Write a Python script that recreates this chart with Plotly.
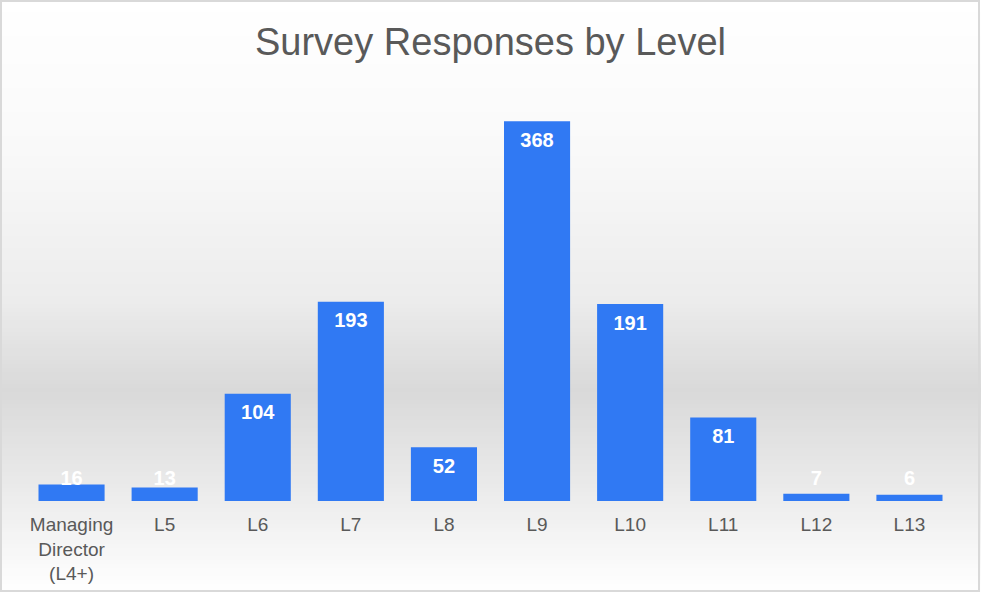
import plotly.graph_objects as go

categories = ["Managing<br>Director<br>(L4+)", "L5", "L6", "L7", "L8", "L9", "L10", "L11", "L12", "L13"]
responses = [16, 13, 104, 193, 52, 368, 191, 81, 7, 6]
title_text = "Survey Responses by Level"

W, H = 981, 593
ML, MR, MT, MB = 25, 25, 80, 92
PH = H - MT - MB
YMAX = 408

# label anchor: inside the top of each bar, kept above the baseline for short bars
label_y = [max(v, 40) - 20 for v in responses]

fig = go.Figure()
fig.add_trace(go.Bar(
    x=categories, y=responses,
    marker=dict(color="#3079f3", line=dict(width=0)),
    hoverinfo="x+y", showlegend=False,
))
fig.add_trace(go.Scatter(
    x=categories, y=label_y, text=[str(v) for v in responses],
    mode="text", textposition="middle center",
    textfont=dict(family="Liberation Sans, Arial, sans-serif", size=20, color="white", weight="bold"),
    hoverinfo="skip", showlegend=False,
))

# background gradient (wall/floor look)
stops = [(0, 255), (150, 249), (300, 236), (390, 217), (480, 233), (593, 255)]
def gray_at(py):
    for (p0, g0), (p1, g1) in zip(stops, stops[1:]):
        if p0 <= py <= p1:
            return g0 + (g1 - g0) * (py - p0) / (p1 - p0)
    return 255

def py_to_paper(py):
    return (H - MB - py) / PH

def px_to_paper(px):
    return (px - ML) / (W - ML - MR)

shapes = []
step = 4
for py in range(0, H, step):
    g = int(round(gray_at(py + step / 2)))
    shapes.append(dict(
        type="rect", xref="paper", yref="paper", layer="below",
        x0=px_to_paper(0), x1=px_to_paper(W),
        y0=py_to_paper(min(py + step, H)), y1=py_to_paper(py),
        line=dict(width=0), fillcolor=f"rgb({g},{g},{g})",
    ))
shapes.append(dict(
    type="rect", xref="paper", yref="paper", layer="above",
    x0=px_to_paper(1), x1=px_to_paper(W - 2),
    y0=py_to_paper(H - 2), y1=py_to_paper(1),
    line=dict(width=2, color="#d9d9d9"), fillcolor="rgba(0,0,0,0)",
))

fig.update_layout(
    width=W, height=H,
    margin=dict(l=ML, r=MR, t=MT, b=MB, autoexpand=False),
    paper_bgcolor="white", plot_bgcolor="rgba(0,0,0,0)",
    title=dict(text=title_text, x=0.5, xanchor="center", y=1 - 42 / H, yanchor="middle",
               font=dict(family="Liberation Sans, Arial, sans-serif", size=38, color="#595959")),
    bargap=0.29,
    shapes=shapes,
    xaxis=dict(showgrid=False, showline=False, zeroline=False, ticks="", ticklabelstandoff=10,
               automargin=False,
               tickfont=dict(family="Liberation Sans, Arial, sans-serif", size=19, color="#595959")),
    yaxis=dict(range=[0, YMAX], visible=False, showgrid=False, zeroline=False, automargin=False),
)

fig.write_html("out.html", config={"displayModeBar": False},
               post_script="document.body.style.margin='0';document.body.style.overflow='hidden';")
